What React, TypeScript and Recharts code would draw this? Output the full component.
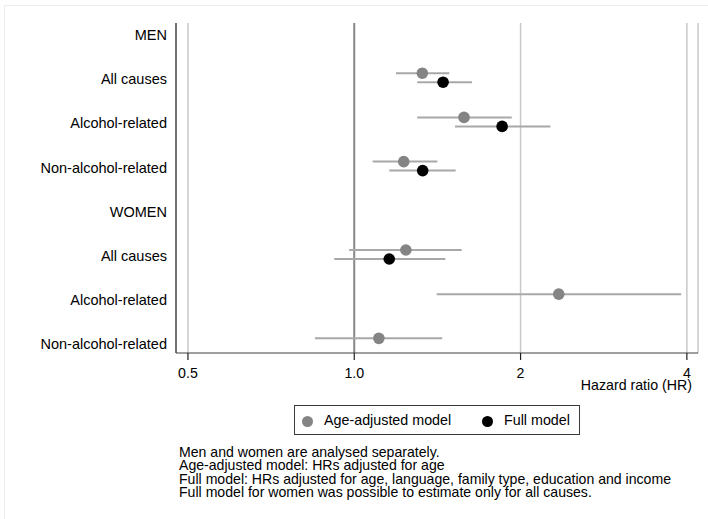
import React from 'react';
import {
  ComposedChart,
  Scatter,
  XAxis,
  YAxis,
  CartesianGrid,
  ReferenceLine,
  ErrorBar,
} from 'recharts';

// row labels, top to bottom
const rowLabels = [
  'MEN',
  'All causes',
  'Alcohol-related',
  'Non-alcohol-related',
  'WOMEN',
  'All causes',
  'Alcohol-related',
  'Non-alcohol-related',
];

// age-adjusted model
const ageRows = [1, 2, 3, 5, 6, 7];
const ageHR = [1.328, 1.58, 1.229, 1.24, 2.345, 1.108];
const ageLo = [1.19, 1.3, 1.08, 0.979, 1.41, 0.849];
const ageHi = [1.486, 1.928, 1.414, 1.565, 3.906, 1.443];

// full model
const fullRows = [1, 2, 3, 5];
const fullHR = [1.448, 1.852, 1.33, 1.157];
const fullLo = [1.3, 1.522, 1.157, 0.92];
const fullHi = [1.634, 2.265, 1.526, 1.462];

const xTicks = [0.5, 1, 2, 4];
const xTickLabels = ['0.5', '1.0', '2', '4'];

const notes = [
  'Men and women are analysed separately.',
  'Age-adjusted model: HRs adjusted for age',
  'Full model: HRs adjusted for age, language, family type, education and income',
  'Full model for women was possible to estimate only for all causes.',
];

const FONT = '"Liberation Sans", Arial, sans-serif';
const GREY = '#848484';
const CI = '#a8a8a8';

const build = (rows: number[], hr: number[], lo: number[], hi: number[], shift: number) =>
  rows.map((r, i) => ({
    hr: hr[i],
    row: r + shift,
    err: [hr[i] - lo[i], hi[i] - hr[i]],
  }));

const ageData = build(ageRows, ageHR, ageLo, ageHi, -0.102);
const fullData = build(fullRows, fullHR, fullLo, fullHi, 0.102);

const dot = (fill: string) => (p: any) => <circle cx={p.cx} cy={p.cy} r={5.8} fill={fill} />;

const XTick = ({ x, y, payload }: any) => {
  const idx = xTicks.indexOf(payload.value);
  return (
    <text x={x} y={y} dy={16} textAnchor="middle" fontFamily={FONT} fontSize={14.2} fill="#000">
      {idx >= 0 ? xTickLabels[idx] : payload.value}
    </text>
  );
};

const YTick = ({ y, payload }: any) => (
  <text x={167} y={y} dy={6.6} textAnchor="end" fontFamily={FONT} fontSize={14.5} fill="#000">
    {rowLabels[payload.value]}
  </text>
);

export default function App() {
  return (
    <div
      style={{
        position: 'absolute',
        left: 0,
        top: 0,
        width: 708,
        height: 519,
        background: '#fff',
        overflow: 'hidden',
        fontFamily: FONT,
      }}
    >
      <div
        style={{
          position: 'absolute',
          left: 4,
          top: 5,
          width: 710,
          height: 520,
          border: '1px solid #ececec',
        }}
      />
      <ComposedChart
        width={708}
        height={519}
        margin={{ top: 23, right: 10, bottom: 136, left: 0 }}
      >
        <CartesianGrid horizontal={false} stroke="#c8c8c8" strokeWidth={1.5} />
        <XAxis
          dataKey="hr"
          type="number"
          scale="log"
          domain={[0.4757, 4.19]}
          allowDataOverflow
          ticks={xTicks}
          tick={<XTick />}
          tickSize={7}
          tickMargin={2}
          height={30}
          axisLine={{ stroke: '#404040', strokeWidth: 1.2 }}
          tickLine={{ stroke: '#202020', strokeWidth: 1.2 }}
        />
        <YAxis
          dataKey="row"
          type="number"
          reversed
          domain={[-0.2376, 7.229]}
          allowDataOverflow
          ticks={[0, 1, 2, 3, 4, 5, 6, 7]}
          tick={<YTick />}
          tickLine={false}
          width={176}
          axisLine={{ stroke: '#303030', strokeWidth: 1.2 }}
        />
        <ReferenceLine x={1} stroke="#8a8a8a" strokeWidth={2} />
        <Scatter data={ageData} shape={dot(GREY)} isAnimationActive={false}>
          <ErrorBar dataKey="err" direction="x" width={0} stroke={CI} strokeWidth={2} />
        </Scatter>
        <Scatter data={fullData} shape={dot('#000')} isAnimationActive={false}>
          <ErrorBar dataKey="err" direction="x" width={0} stroke={CI} strokeWidth={2} />
        </Scatter>
      </ComposedChart>

      <div
        style={{
          position: 'absolute',
          right: 708 - 692,
          top: 378,
          fontSize: 14.2,
          lineHeight: '14px',
          whiteSpace: 'nowrap',
        }}
      >
        Hazard ratio (HR)
      </div>

      <div
        style={{
          position: 'absolute',
          left: 294,
          top: 405,
          width: 284,
          height: 28,
          border: '1px solid #3a3a3a',
          fontSize: 14.3,
        }}
      >
        <div style={{ position: 'absolute', left: 7, top: 10, width: 11, height: 11, borderRadius: '50%', background: GREY }} />
        <div style={{ position: 'absolute', left: 29, top: 7, lineHeight: '15px', whiteSpace: 'nowrap' }}>
          Age-adjusted model
        </div>
        <div style={{ position: 'absolute', left: 187, top: 10, width: 11, height: 11, borderRadius: '50%', background: '#000' }} />
        <div style={{ position: 'absolute', left: 209, top: 7, lineHeight: '15px', whiteSpace: 'nowrap' }}>
          Full model
        </div>
      </div>

      <div
        style={{
          position: 'absolute',
          left: 179,
          top: 446,
          fontSize: 14.1,
          lineHeight: '13.4px',
          whiteSpace: 'nowrap',
        }}
      >
        {notes.map((n, i) => (
          <div key={i}>{n}</div>
        ))}
      </div>
    </div>
  );
}
